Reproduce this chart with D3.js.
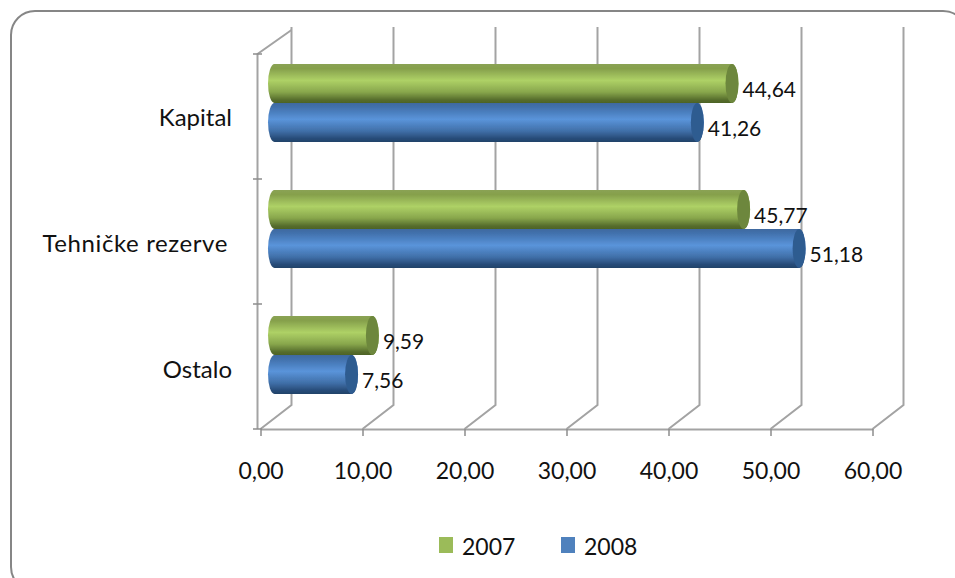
<!DOCTYPE html>
<html>
<head>
<meta charset="utf-8">
<script src="https://cdn.jsdelivr.net/npm/d3@7"></script>
<style>
  html, body { margin: 0; padding: 0; background: #fff; overflow: hidden; }
  text { font-family: Lato, "Open Sans", sans-serif; fill: #111; }
</style>
</head>
<body>
<div id="chart"></div>
<script>
const categories = ["Kapital", "Tehničke rezerve", "Ostalo"];
const seriesNames = ["2007", "2008"];
const values2007 = [44.64, 45.77, 9.59];
const values2008 = [41.26, 51.18, 7.56];
const xTicks = [0, 10, 20, 30, 40, 50, 60];

const WIDTH = 955, HEIGHT = 578;
const DEPTH = { X: 31, Y: -24 };
const PLOT = { LEFT: 260.5, RIGHT: 872.5, TOP: 54, BOTTOM: 429 };

const comma = v => d3.format(".2f")(v).replace(".", ",");

const svg = d3.select("#chart").append("svg")
  .attr("width", WIDTH)
  .attr("height", HEIGHT);

const defs = svg.append("defs");
function cylinderGradient(id, stops) {
  const g = defs.append("linearGradient").attr("id", id)
    .attr("x1", 0).attr("y1", 0).attr("x2", 0).attr("y2", 1);
  stops.forEach(s => g.append("stop").attr("offset", s[0]).attr("stop-color", s[1]));
}
cylinderGradient("grad2007", [[0, "#8aa254"], [0.12, "#86a04c"], [0.42, "#aed166"], [0.72, "#88a64c"], [0.92, "#566d2c"], [1, "#4d6326"]]);
cylinderGradient("grad2008", [[0, "#40699f"], [0.12, "#4272ae"], [0.42, "#5a94da"], [0.72, "#406fa8"], [0.92, "#264a76"], [1, "#224268"]]);
defs.append("filter").attr("id", "soft")
  .append("feGaussianBlur").attr("stdDeviation", 0.5);

// chart frame, runs off the right and bottom of the picture
svg.append("rect")
  .attr("x", 11).attr("y", 11)
  .attr("width", 956).attr("height", 580)
  .attr("rx", 24).attr("ry", 24)
  .attr("fill", "#fff")
  .attr("stroke", "#868686")
  .attr("stroke-width", 2);

const x = d3.scaleLinear().domain([0, 60]).range([PLOT.LEFT, PLOT.RIGHT]);
const barEnd = d3.scaleLinear().domain([0, 60]).range([280.5, 896.1]);
const yTickScale = d3.scaleLinear().domain([0, categories.length]).range([PLOT.TOP, PLOT.BOTTOM]);
const yGroup = d3.scaleBand().domain(categories).range([40, 418]);
// the two cylinders sit around the middle of each 126px band
const ySeries = d3.scaleBand().domain(seriesNames).range([24, 102]);

// floor and back wall grid lines
const grid = svg.append("g").attr("filter", "url(#soft)")
  .attr("fill", "none").attr("stroke", "#a3a3a3").attr("stroke-width", 2);
grid.selectAll("path.wall").data(xTicks).join("path")
  .attr("class", "wall")
  .attr("d", d => {
    const x0 = x(d), xb = x0 + DEPTH.X, yb = PLOT.BOTTOM + DEPTH.Y;
    return `M${x0},${PLOT.BOTTOM}L${xb},${yb}L${xb},27`;
  });
grid.append("path")
  .attr("d", `M257.5,${PLOT.BOTTOM}L257.5,${PLOT.TOP}L${x(0) + DEPTH.X},${PLOT.TOP + DEPTH.Y}`);

// axes
const xAxis = svg.append("g")
  .attr("transform", `translate(0,${PLOT.BOTTOM})`)
  .call(d3.axisBottom(x).tickValues(xTicks).tickFormat(comma).tickSize(7).tickSizeOuter(0).tickPadding(27));
xAxis.select(".domain").attr("stroke", "#a3a3a3").attr("stroke-width", 2);
xAxis.selectAll("line").attr("stroke", "#8c8c8c").attr("stroke-width", 1.5);
xAxis.selectAll("text")
  .attr("font-size", 23)
  .attr("font-family", "Lato")
  .attr("fill", "#111");

const yAxisTicks = d3.range(categories.length + 1);
svg.append("g").selectAll("line").data(yAxisTicks).join("line")
  .attr("x1", 253).attr("x2", 262)
  .attr("y1", d => yTickScale(d)).attr("y2", d => yTickScale(d))
  .attr("stroke", "#8c8c8c").attr("stroke-width", 1.5);

svg.append("g").selectAll("text").data(categories).join("text")
  .attr("x", (d, i) => i === 1 ? 228 : 232)
  .attr("y", d => yGroup(d) + yGroup.bandwidth() / 2 + 23)
  .attr("text-anchor", "end")
  .attr("font-size", 24)
  .attr("letter-spacing", (d, i) => i === 1 ? 0.6 : 0)
  .text(d => d);

// cylinders
const RX = 6.5;
const series = [
  { name: "2008", values: values2008, fill: "url(#grad2008)", cap: "#2f5b90" },
  { name: "2007", values: values2007, fill: "url(#grad2007)", cap: "#6d873c" }
];
const bars = svg.append("g").attr("filter", "url(#soft)");
series.forEach(s => {
  const items = s.values.map((v, i) => ({ v, cat: categories[i] }));
  const top = d => yGroup(d.cat) + ySeries(s.name);
  const h = ySeries.bandwidth();
  bars.selectAll(`path.body${s.name}`).data(items).join("path")
    .attr("class", `body${s.name}`)
    .attr("fill", s.fill)
    .attr("d", d => {
      const xl = 268 + RX, xr = barEnd(d.v) - RX, t = top(d);
      return `M${xl},${t}L${xr},${t}A${RX},${h / 2} 0 0 1 ${xr},${t + h}L${xl},${t + h}A${RX},${h / 2} 0 0 1 ${xl},${t}Z`;
    });
  bars.selectAll(`ellipse.cap${s.name}`).data(items).join("ellipse")
    .attr("class", `cap${s.name}`)
    .attr("fill", s.cap)
    .attr("cx", d => barEnd(d.v) - RX)
    .attr("cy", d => top(d) + h / 2)
    .attr("rx", RX)
    .attr("ry", h / 2);
});

// value labels
series.forEach(s => {
  svg.append("g").selectAll("text").data(s.values).join("text")
    .attr("x", d => barEnd(d) + 4)
    .attr("y", (d, i) => yGroup(categories[i]) + ySeries(s.name) + ySeries.bandwidth() / 2 + 13)
    .attr("font-size", 21)
    .text(comma);
});

// legend
const legendItems = [
  { name: "2007", color: "#9bbb59", x: 439 },
  { name: "2008", color: "#4f81bd", x: 561 }
];
const legend = svg.append("g").selectAll("g").data(legendItems).join("g")
  .attr("transform", d => `translate(${d.x},537)`);
legend.append("rect")
  .attr("width", 14).attr("height", 16)
  .attr("fill", d => d.color);
legend.append("text")
  .attr("x", 23).attr("y", 18)
  .attr("font-size", 23)
  .text(d => d.name);
</script>
</body>
</html>
